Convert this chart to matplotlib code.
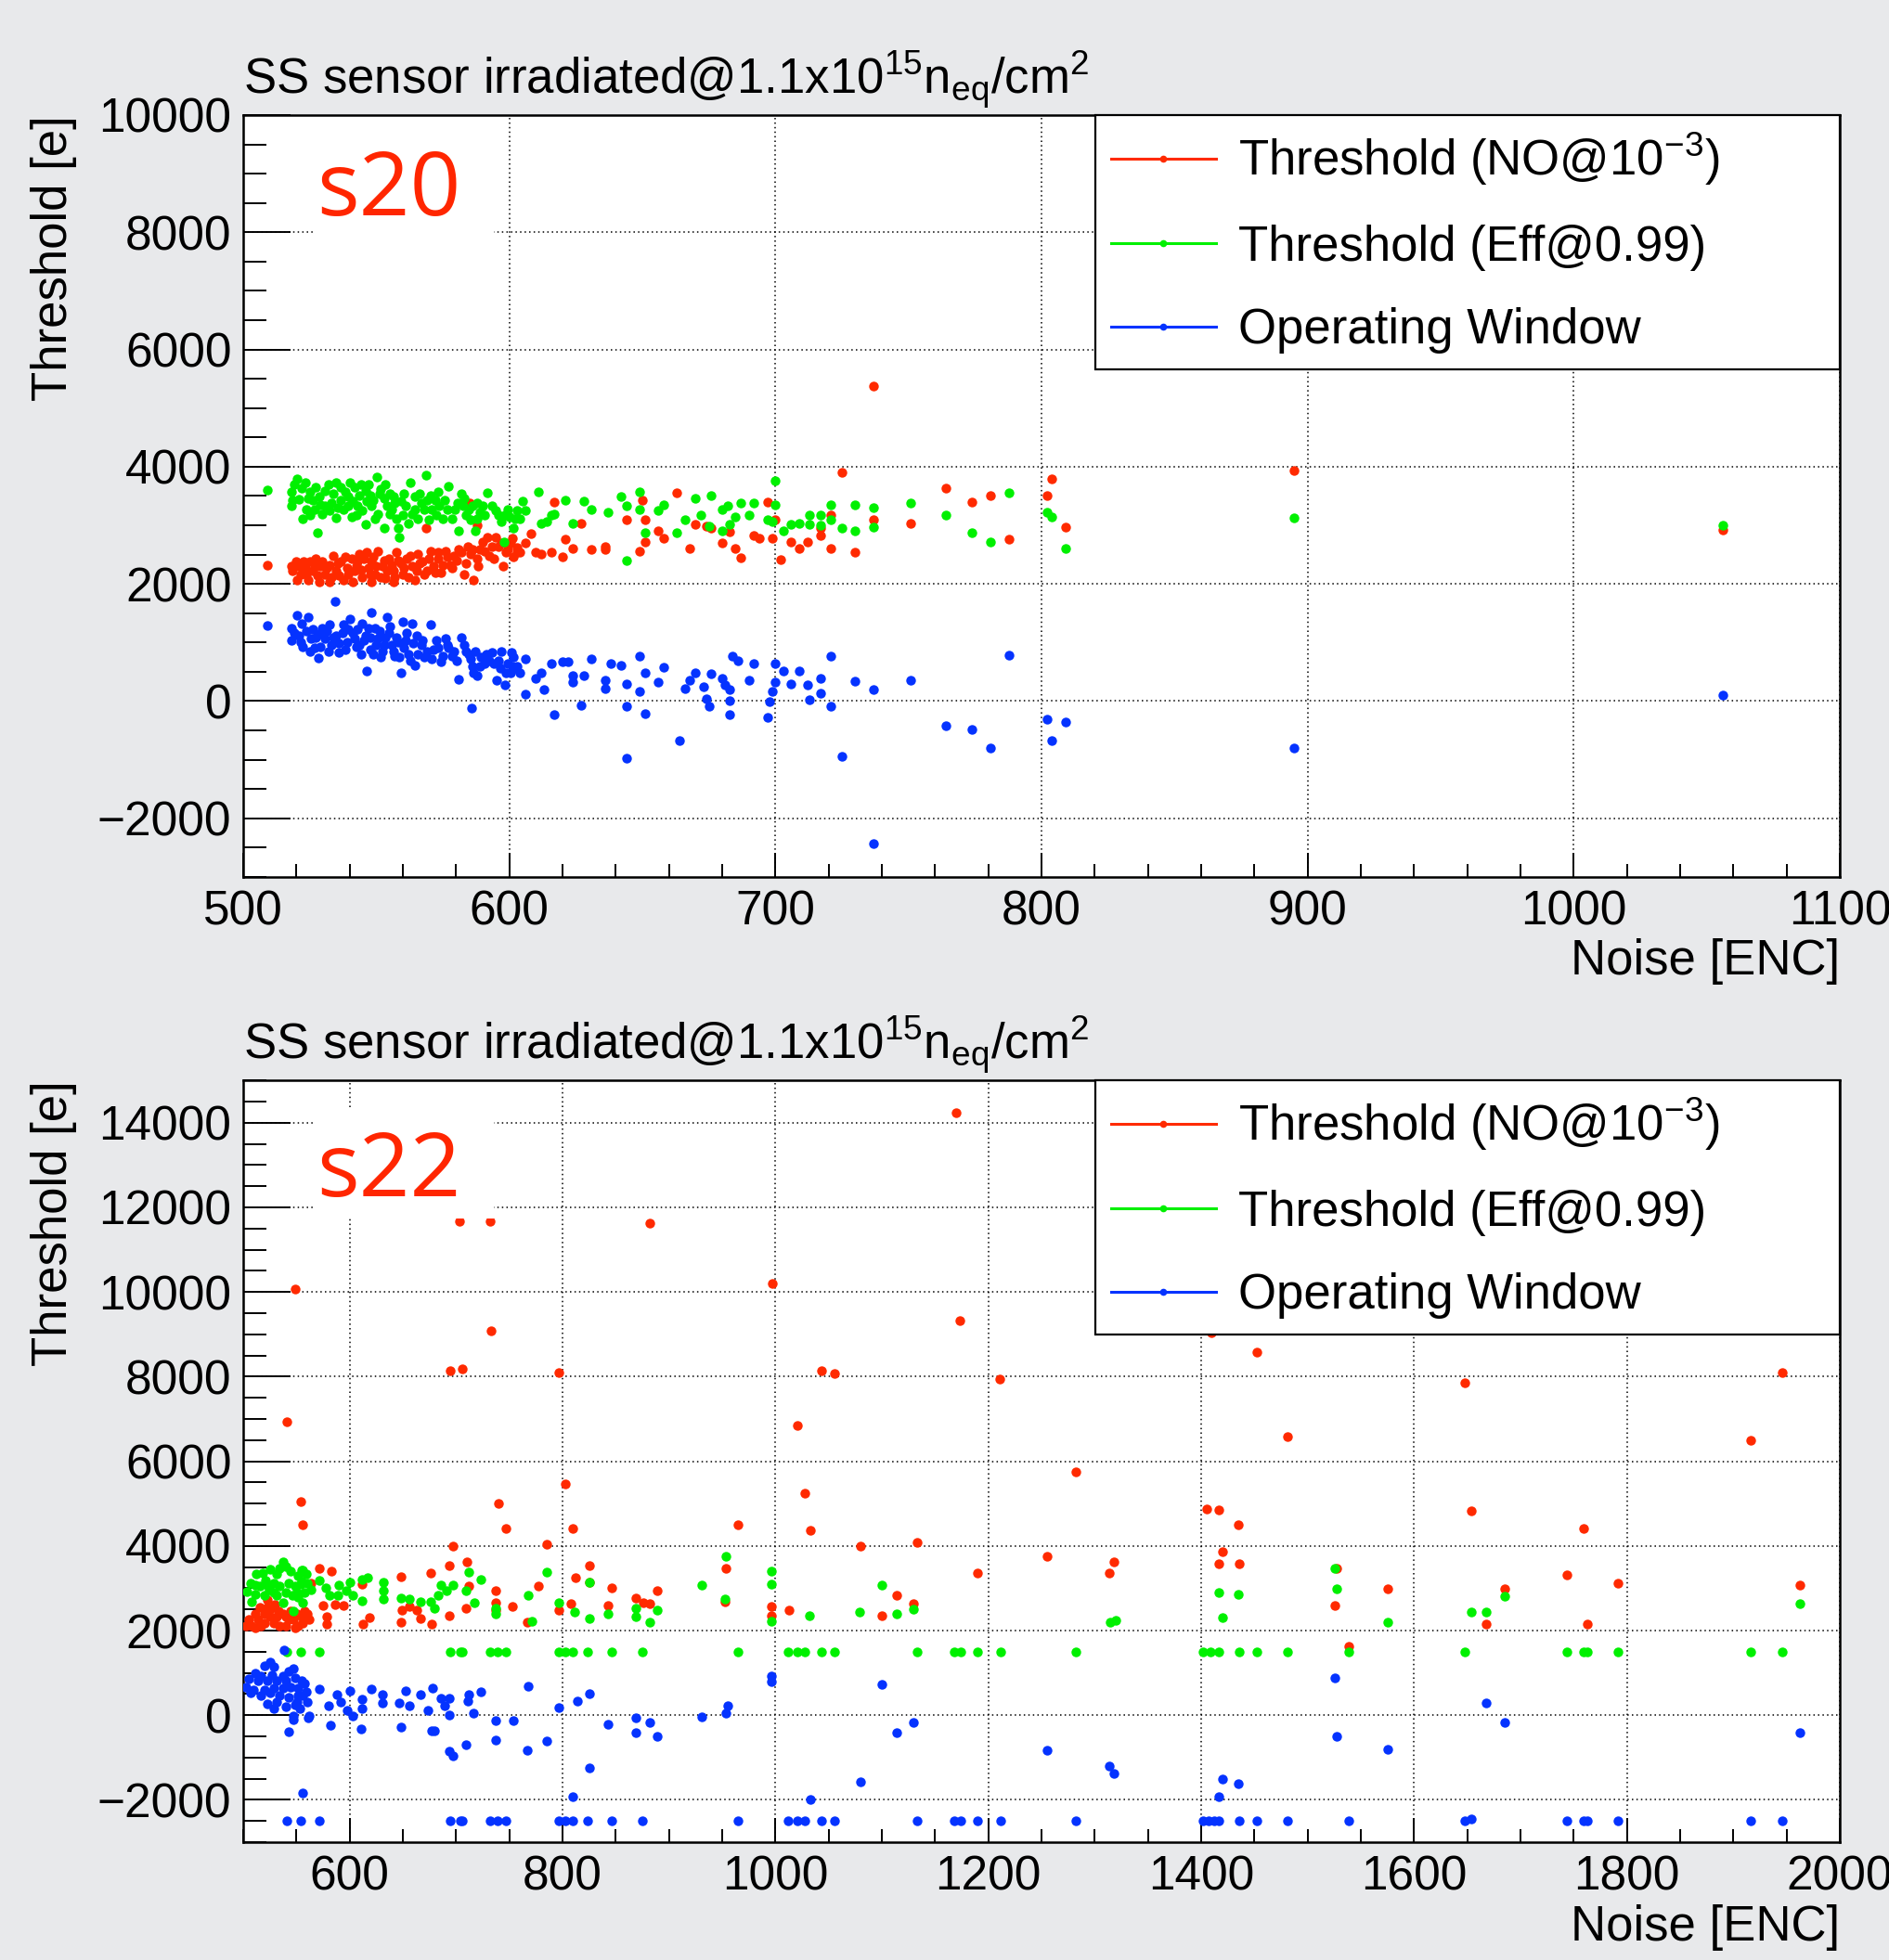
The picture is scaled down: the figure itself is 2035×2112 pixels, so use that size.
import numpy as np
import matplotlib.pyplot as plt
from matplotlib.lines import Line2D
from matplotlib.patches import Rectangle
from matplotlib.ticker import MultipleLocator, FuncFormatter

plt.rcParams['font.family'] = ['Liberation Sans', 'DejaVu Sans']
plt.rcParams['mathtext.fontset'] = 'custom'
plt.rcParams['mathtext.rm'] = 'Liberation Sans'
plt.rcParams['mathtext.it'] = 'Liberation Sans:italic'
plt.rcParams['mathtext.bf'] = 'Liberation Sans:bold'
plt.rcParams['mathtext.default'] = 'regular'

# ---------------- s20 (top panel) : (noise, threshold) ----------------
s20_no = np.array([
    (509, 2326), (725, 3905), (764, 3630), (774, 3390), (781, 3510), (788, 2760),
    (804, 3785), (802, 3510), (809, 2970), (751, 3025), (737, 3090), (730, 2535),
    (721, 2605), (721, 3170), (717, 2825), (717, 2960), (712, 2720), (709, 2600),
    (706, 2720), (702, 2420), (700, 3090), (697, 3390), (699, 2775), (692, 2825),
    (694, 2785), (687, 2445), (685, 2600), (680, 2695), (683, 2895), (674, 2985),
    (676, 2960), (670, 3010), (668, 2600), (663, 3547), (658, 2775), (656, 2905),
    (651, 2720), (649, 2560), (651, 3090), (650, 3420), (644, 3090), (636, 2640),
    (636, 2590), (631, 2590), (627, 3035), (624, 2600), (620, 2460), (621, 2765),
    (617, 3400), (616, 2535), (612, 2510), (610, 2535), (608, 2850), (606, 2695),
    (604, 2535), (737, 5383), (895, 3936), (1056, 2915),
    (518.1, 2300), (519.8, 2379), (521.5, 2168), (523.3, 2274), (525.0, 2379),
    (526.2, 2221), (527.4, 2432), (529.1, 2300), (530.8, 2168), (532.6, 2326),
    (533.8, 2484), (534.9, 2221), (536.7, 2379), (537.8, 2063), (539.0, 2274),
    (540.7, 2432), (542.5, 2300), (543.6, 2511), (544.8, 2116), (546.5, 2537),
    (547.1, 2274), (548.3, 2379), (549.4, 2168), (550.6, 2563), (552.3, 2300),
    (553.5, 2090), (554.7, 2432), (556.4, 2221), (557.6, 2537), (559.3, 2353),
    (559.9, 2168), (561.6, 2432), (563.4, 2300), (564.6, 2063), (565.7, 2511),
    (567.5, 2379), (569.2, 2221), (570.4, 2563), (571.5, 2300), (573.3, 2432),
    (574.4, 2195), (576.2, 2563), (577.9, 2326), (579.1, 2484), (580.8, 2589),
    (583.1, 2168), (584.3, 2642), (585.5, 2511), (586.6, 2063), (587.8, 2432),
    (589.0, 2589), (590.1, 2721), (591.9, 2800), (592.4, 2484), (594.8, 2800),
    (595.9, 2642), (597.7, 2300), (598.8, 2537), (600.6, 2695), (601.7, 2458),
    (602.9, 2616), (520.4, 2063), (524.5, 2063), (528.5, 2037), (532.6, 2037),
    (541.3, 2037), (548.3, 2037), (556.4, 2037), (585.2, 3379), (568.6, 2947),
    (587.8, 3000),
    (518.6, 2221), (521.0, 2300), (522.7, 2379), (523.9, 2168), (526.8, 2300),
    (527.9, 2142), (529.7, 2379), (531.4, 2274), (533.2, 2116), (535.5, 2353),
    (536.1, 2142), (538.4, 2458), (539.6, 2168), (541.9, 2221), (543.1, 2379),
    (544.2, 2247), (545.4, 2432), (547.7, 2168), (548.9, 2458), (550.0, 2300),
    (551.8, 2116), (552.9, 2405), (554.1, 2221), (555.8, 2326), (557.0, 2116),
    (558.2, 2405), (560.5, 2274), (562.2, 2116), (562.8, 2484), (565.1, 2221),
    (566.3, 2353), (568.0, 2168), (569.8, 2432), (572.1, 2195), (573.3, 2537),
    (575.0, 2326), (576.8, 2458), (578.5, 2274), (580.2, 2405), (582.0, 2537),
    (583.7, 2353), (586.1, 2589), (588.4, 2300), (590.7, 2563), (593.6, 2642),
    (594.2, 2432), (597.1, 2695), (599.4, 2589), (601.2, 2774), (602.9, 2537),
])

s20_eff = np.array([
    (509, 3605), (788, 3547), (802, 3220), (804, 3140), (809, 2600), (781, 2720),
    (774, 2870), (764, 3180), (751, 3380), (737, 3300), (737, 2970), (730, 3350),
    (730, 2905), (725, 2950), (721, 3350), (721, 3090), (717, 3180), (717, 3000),
    (713, 3170), (713, 3010), (709, 3035), (706, 3010), (703, 2905), (700, 3760),
    (700, 3350), (699, 3065), (697, 3090), (692, 3380), (687, 3380), (690, 3170),
    (685, 3140), (682, 3325), (680, 3275), (680, 2905), (683, 3010), (675, 2985),
    (672, 3170), (670, 3460), (676, 3510), (666, 3090), (663, 2880), (658, 3350),
    (656, 3250), (651, 2880), (649, 3275), (649, 3565), (644, 3325), (644, 2405),
    (642, 3485), (637, 3220), (631, 3275), (628, 3405), (624, 3035), (621, 3430),
    (617, 3195), (616, 3170), (614, 3065), (612, 3035), (611, 3565), (606, 3250),
    (605, 3405), (604, 3115), (895, 3128), (1056, 3000),
    (520.2, 3789), (518.3, 3563), (518.1, 3337), (522.1, 3632), (521.0, 3442),
    (525.0, 3563), (526.2, 3432), (523.9, 3274), (522.5, 3116), (525.0, 3168),
    (527.9, 2879), (528.5, 3484), (530.6, 3589), (530.8, 3326), (529.7, 3195),
    (534.9, 3732), (533.2, 3379), (535.5, 3300), (534.9, 3126), (538.4, 3563),
    (537.8, 3274), (540.1, 3721), (541.9, 3642), (541.3, 3405), (543.1, 3326),
    (542.5, 3168), (546.0, 3589), (546.5, 3405), (544.8, 3247), (547.7, 3511),
    (548.3, 3326), (546.0, 3011), (550.4, 3826), (549.4, 3116), (551.8, 3616),
    (552.9, 3458), (554.1, 3326), (552.9, 2958), (555.3, 3195), (557.0, 3379),
    (558.2, 2958), (558.7, 2800), (557.6, 3116), (560.5, 3537), (561.1, 3326),
    (562.8, 3721), (562.2, 3037), (564.6, 3484), (564.6, 3274), (566.9, 3379),
    (565.7, 3116), (568.6, 3853), (570.4, 3511), (570.9, 3274), (569.8, 3089),
    (573.3, 3563), (573.8, 3326), (575.0, 3116), (577.1, 3668), (576.8, 3274),
    (578.5, 3116), (580.6, 3379), (582.0, 3537), (580.8, 2905), (583.1, 3458),
    (583.7, 3168), (586.1, 3326), (587.2, 2905), (587.8, 3116), (589.0, 3221),
    (590.1, 3326), (591.9, 3547), (593.6, 3326), (595.9, 3168), (597.1, 3063),
    (599.4, 3274), (600.3, 3142), (601.7, 2958), (598.0, 2721),
    (519.2, 3695), (518.6, 3432), (523.3, 3721), (524.5, 3458), (527.4, 3642),
    (526.8, 3274), (529.1, 3353), (532.0, 3695), (532.6, 3247), (533.8, 3537),
    (536.7, 3642), (536.7, 3432), (539.6, 3484), (539.6, 3326), (540.7, 3142),
    (543.6, 3511), (544.2, 3695), (547.1, 3695), (548.9, 3432), (550.6, 3195),
    (551.2, 3537), (553.5, 3695), (555.3, 3537), (556.4, 3484), (555.8, 3274),
    (559.3, 3405), (559.9, 3168), (563.4, 3195), (566.3, 3537), (568.0, 3274),
    (569.2, 3432), (572.1, 3432), (572.7, 3168), (575.6, 3432), (579.7, 3274),
    (582.6, 3326), (584.9, 3274), (585.5, 3089), (587.8, 3379), (590.7, 3168),
    (594.8, 3247), (598.3, 3168), (602.3, 3116), (602.9, 3247),
])

s20_win = np.array([
    (509, 1290), (788, 785), (802, -305), (804, -675), (809, -360), (781, -795),
    (774, -490), (764, -425), (737, 205), (730, 340), (737, -2435), (751, 350),
    (725, -935), (721, 760), (721, -95), (717, 380), (717, 140), (713, 20),
    (712, 275), (709, 510), (706, 300), (703, 510), (700, 640), (700, 325),
    (699, 170), (697, -280), (698, -15), (692, 640), (690, 350), (686, 695),
    (684, 775), (683, -225), (683, 10), (683, 195), (681, 275), (680, 380),
    (676, 460), (675, -95), (674, 35), (673, 245), (670, 485), (668, 350),
    (666, 220), (664, -675), (658, 575), (656, 325), (651, -215), (651, 485),
    (649, 170), (649, 775), (644, -95), (644, -980), (644, 300), (642, 615),
    (638, 640), (636, 220), (636, 350), (631, 720), (628, 430), (627, -70),
    (624, 430), (624, 325), (622, 670), (620, 670), (617, -225), (616, 640),
    (613, 195), (612, 485), (610, 380), (606, 115), (606, 720), (604, 485),
    (602, 565), (601, 825), (895, -808), (1056, 106),
    (520.2, 1458), (518.3, 1247), (518.3, 1037), (522.1, 1326), (521.0, 1116),
    (522.5, 932), (524.5, 1432), (525.0, 853), (526.2, 1221), (527.4, 1089),
    (528.3, 737), (529.7, 1247), (530.8, 1063), (532.6, 1300), (533.2, 958),
    (534.9, 1116), (536.1, 826), (537.8, 1300), (539.0, 1011), (540.1, 1405),
    (541.3, 1168), (542.5, 932), (544.2, 800), (544.8, 1326), (546.0, 1116),
    (546.5, 511), (547.7, 879), (548.3, 1511), (549.4, 1247), (550.6, 1063),
    (551.8, 747), (552.9, 958), (554.1, 1432), (554.7, 1168), (556.4, 853),
    (557.6, 1089), (558.7, 747), (559.3, 484), (559.9, 1353), (561.1, 1037),
    (562.2, 800), (563.4, 1326), (564.6, 616), (565.1, 1116), (566.9, 958),
    (568.0, 747), (570.4, 1300), (571.5, 879), (572.7, 1037), (574.4, 668),
    (576.2, 1063), (577.3, 905), (578.5, 774), (580.8, 379), (582.0, 1089),
    (583.1, 958), (584.9, 800), (586.1, 589), (587.2, 853), (587.8, 432),
    (589.5, 747), (590.7, 642), (592.4, 695), (593.6, 826), (595.4, 353),
    (596.5, 563), (597.1, 853), (598.3, 274), (599.4, 642), (600.6, 484),
    (601.7, 747), (602.9, 589), (585.7, -125), (534.7, 1695),
    (519.2, 1168), (521.5, 1011), (523.9, 1195), (525.6, 1063), (526.8, 905),
    (528.5, 1142), (529.1, 932), (531.4, 1195), (532.0, 853), (533.8, 1089),
    (536.1, 984), (537.2, 1168), (538.4, 879), (539.6, 1221), (541.9, 1063),
    (543.1, 1221), (543.6, 958), (545.4, 1037), (547.1, 1247), (547.7, 1089),
    (548.9, 800), (550.0, 958), (551.2, 1195), (552.3, 853), (553.5, 1089),
    (555.3, 1274), (555.8, 958), (557.0, 774), (558.2, 1011), (560.5, 905),
    (561.6, 1168), (562.8, 695), (564.0, 984), (565.7, 800), (567.5, 1037),
    (569.2, 853), (570.9, 721), (573.3, 905), (575.0, 774), (576.8, 958),
    (579.1, 853), (580.2, 695), (583.7, 853), (585.5, 721), (586.6, 484),
    (589.0, 589), (591.3, 800), (594.2, 642), (595.9, 695), (598.8, 484),
    (601.2, 589),
])

# ---------------- s22 (bottom panel) ----------------
s22_no = np.array([
    (1170, 14230), (703, 11660), (732, 11660), (882, 11620), (549, 10080),
    (997, 10200), (1173, 9325), (733, 9075), (694.5, 8150), (706, 8190),
    (797, 8100), (1043, 8150), (1056, 8070), (1211, 7940), (541, 6930),
    (1021, 6850), (1282, 5760), (803, 5460), (1028, 5250), (554, 5050),
    (740, 5000), (556, 4500), (747, 4420), (810, 4420), (965, 4500), (1033, 4370),
    (697, 4000), (785, 4040), (1080, 4000), (1133, 4075), (1255, 3745),
    (1318, 3625), (1314, 3365), (1190, 3365), (954, 3480), (825, 3530),
    (710, 3625), (694, 3530), (572, 3480), (583, 3410), (676, 3365), (648, 3280),
    (812, 3245), (712, 3045), (777, 3045), (825, 3140), (612, 3100), (737, 2950),
    (846, 3000), (889, 2950), (1114, 2830), (1130, 2630), (869, 2770), (876, 2650),
    (882, 2630), (808, 2630), (843, 2600), (753, 2570), (797, 2480), (996, 2570),
    (996, 2360), (1013, 2490), (1100, 2360), (953, 2690), (767, 2190),
    (649, 2477), (656, 2571), (663, 2477), (667, 2275), (677, 2145), (648, 2192),
    (575, 2595), (586, 2619), (594, 2595), (579, 2145), (579, 2334), (613, 2145),
    (619, 2311), (694, 2358), (709, 2536), (737, 2477), (737, 2666),
    (1410, 9030), (1452, 8570), (1648, 7855), (1946, 8100), (1481, 6590),
    (1916, 6500), (1405, 4880), (1417, 4845), (1435, 4500), (1654, 4830),
    (1759, 4420), (1420, 3875), (1417, 3580), (1436, 3580), (1527, 3480),
    (1526, 2600), (1539, 1635), (1575, 2985), (1685, 2985), (1668, 2155),
    (1744, 3320), (1763, 2155), (1792, 3115), (1963, 3070),
    (502.3, 2109), (508.1, 2109), (514.0, 2253), (519.8, 2397), (522.7, 2540),
    (525.6, 2325), (528.5, 2181), (532.8, 2469), (534.3, 2109), (540.1, 2325),
    (544.5, 2469), (547.4, 2253), (551.7, 2109), (554.7, 2325), (557.6, 2469),
    (560.5, 2397), (529.9, 2612), (522.7, 2720), (540.1, 2109), (516.9, 2109),
    (563.4, 3116), (505.2, 2253), (511.0, 2397), (515.4, 2540), (525.6, 2504),
    (537.2, 2397), (543.0, 2253), (550.3, 2397), (556.1, 2181), (561.9, 2253),
    (531.4, 2325), (519.8, 2181), (511.0, 2073), (548.8, 2073),
])

s22_floor_noise = [541, 554, 572, 694.5, 704, 706, 732, 739, 747, 797, 803, 810,
                   824, 846, 875, 965, 1012, 1021, 1028, 1043, 1056, 1133, 1168,
                   1174, 1190, 1212, 1282, 1402, 1409, 1417, 1436, 1452, 1481,
                   1539, 1648, 1744, 1759, 1763, 1792, 1916, 1946]
s22_eff_floor = [1500] * len(s22_floor_noise)

s22_eff = np.array([
    (954, 3745), (1100, 3080), (1114, 2405), (1130, 2500), (1079, 2440),
    (1032, 2360), (996, 3400), (996, 3100), (996, 2215), (953, 2740), (931, 3070),
    (825, 3140), (825, 2275), (811, 2450), (843, 2405), (869, 2535), (869, 2320),
    (882, 2190), (889, 2490), (797, 2665), (785, 3375), (768, 2830), (771, 2215),
    (737, 2535), (737, 2405), (723, 3200), (717, 2665), (712, 3375), (709, 2950),
    (697, 3080), (686, 3080), (683, 2830), (680, 2535), (691, 2950), (676, 2690),
    (667, 2690), (656, 2740), (648, 2760), (632, 3140), (632, 2950), (632, 2740),
    (612, 3200), (617, 3245), (612, 2710), (600, 3140), (597, 2950), (603, 2830),
    (590, 3080), (589, 2830), (581, 2830), (578, 3010), (572, 3190), (555, 3425),
    (554, 3090),
    (1315, 2190), (1320, 2240), (1417, 2900), (1420, 2310), (1435, 2855),
    (1526, 3480), (1527, 2985), (1575, 2190), (1654, 2440), (1668, 2440),
    (1685, 2820), (1963, 2640),
    (537.2, 3619), (540.1, 3511), (556.1, 3418), (525.6, 3439), (512.5, 3331),
    (521.2, 3188), (528.5, 3116), (534.3, 3044), (543.0, 3116), (548.8, 3044),
    (554.7, 3152), (560.5, 3116), (515.4, 3044), (503.8, 2914), (511.0, 2864),
    (519.8, 2828), (531.4, 2828), (540.1, 2900), (545.9, 2828), (551.7, 2792),
    (557.6, 2900), (524.1, 2972), (508.1, 2670), (537.2, 2648), (547.4, 2468),
    (556.1, 2648), (506.7, 3116), (518.3, 3367), (531.4, 3331), (544.5, 3403),
    (551.7, 3295), (559.0, 3331), (528.5, 2900), (511.0, 3080), (550.3, 2900),
    (563.4, 2972), (534.3, 3475), (522.7, 3080),
])

s22_win_floor_noise = [541, 554, 572, 694.5, 704, 706, 732, 739, 747, 797, 803,
                       810, 824, 846, 875, 965, 1012, 1021, 1028, 1043, 1056, 1133,
                       1168, 1174, 1190, 1212, 1282, 1402, 1407, 1412, 1417, 1436,
                       1452, 1481, 1539, 1648, 1654, 1744, 1759, 1763, 1792, 1916,
                       1946]
s22_win_floor = [-2500] * 16 + [-2500] * 20 + [-2440] + [-2500] * 6

s22_win = np.array([
    (556, -1840), (810, -1920), (1033, -2000), (1080, -1575), (825, -1245),
    (1255, -830), (1314, -1200), (1318, -1375), (694, -850), (697, -960),
    (709, -700), (767, -830), (785, -600), (737, -580), (1114, -415), (1130, -165),
    (869, -415), (889, -500), (882, -165), (869, -70), (843, -210), (931, -35),
    (954, 45), (955, 215), (754, -120), (737, -120), (716, 45), (694, 10),
    (677, -370), (680, -370), (648, -270), (611, -320), (582, -225), (561, -70),
    (547, -95), (543, -400), (797, 190), (814, 345), (825, 520), (768, 690),
    (723, 555), (712, 485), (711, 345), (694, 390), (686, 390), (689, 225),
    (678, 640), (667, 485), (674, 105), (656, 225), (653, 580), (647, 285),
    (631, 485), (631, 285), (620, 615), (612, 370), (612, 165), (600, 580),
    (598, 105), (603, -10), (592, 310), (588, 485), (580, 225), (572, 615),
    (996, 935), (996, 795), (1100, 720), (1420, -1500), (1435, -1620),
    (1417, -1920), (1526, 890), (1527, -500), (1575, -795), (1668, 295),
    (1685, -165), (1963, -415),
    (525.6, 1246), (528.5, 1138), (511.0, 995), (516.9, 923), (522.7, 815),
    (531.4, 815), (537.2, 923), (543.0, 1030), (548.8, 887), (554.7, 815),
    (505.2, 851), (502.3, 671), (509.6, 599), (519.8, 599), (528.5, 635),
    (537.2, 635), (544.5, 671), (551.7, 635), (559.0, 563), (534.3, 455),
    (543.0, 419), (550.3, 311), (556.1, 455), (522.7, 276), (531.4, 311),
    (540.1, 204), (547.4, -12), (561.9, -12), (548.8, 240), (538.7, 1534),
    (514.0, 815), (527.0, 959), (540.1, 815), (547.4, 1102), (557.6, 743),
    (506.7, 527), (516.9, 455), (525.6, 527), (551.7, 455), (560.5, 311),
    (528.5, 168), (553.2, 168), (519.8, 1174),
])

RED = '#ff2a00'
GREEN = '#00f000'
BLUE = '#0533ff'
BG = '#e8e9eb'

title = 'SS sensor irradiated@1.1x10$^{15}$n$_{eq}$/cm$^{2}$'
labels = ['Threshold (NO@10$^{-3}$)', 'Threshold (Eff@0.99)', 'Operating Window']

fig = plt.figure(figsize=(20.35, 21.12), dpi=100, facecolor=BG)
ax1 = fig.add_axes([0.1287, 0.5526, 0.8452, 0.3887])
ax2 = fig.add_axes([0.1287, 0.0601, 0.8452, 0.3887])

minus = FuncFormatter(lambda v, p: f'{int(round(v))}'.replace('-', '\u2212'))


def dots(ax, x, y, color):
    ax.plot(x, y, linestyle='none', marker='o', markersize=7.5,
            markeredgewidth=0, color=color, zorder=3)


def decorate(ax, xlim, ylim, xmaj, xmin, tag, tag_y, box_y):
    ax.set_xlim(*xlim)
    ax.set_ylim(*ylim)
    ax.xaxis.set_major_locator(MultipleLocator(xmaj))
    ax.xaxis.set_minor_locator(MultipleLocator(xmin))
    ax.yaxis.set_major_locator(MultipleLocator(2000))
    ax.yaxis.set_minor_locator(MultipleLocator(500))
    ax.yaxis.set_major_formatter(minus)
    ax.xaxis.set_major_formatter(minus)
    ax.set_axisbelow(True)
    ax.grid(True, which='major', color='black', linestyle=(0, (1, 2.2)), linewidth=1.1)
    ax.tick_params(axis='both', which='both', direction='in', top=False, right=False,
                   labelsize=37, width=1.4)
    ax.tick_params(axis='y', which='major', length=37, pad=9)
    ax.tick_params(axis='y', which='minor', length=18)
    ax.tick_params(axis='x', which='major', length=18.5, pad=10)
    ax.tick_params(axis='x', which='minor', length=10)
    for s in ax.spines.values():
        s.set_linewidth(1.8)

    ax.text(0.0, 1.029, title, transform=ax.transAxes, ha='left', va='baseline',
            fontsize=38)
    ax.set_ylabel('Threshold [e]', fontsize=38, loc='top')
    ax.yaxis.set_label_coords(-0.104, 1.0)
    ax.set_xlabel('Noise [ENC]', fontsize=38, loc='right')
    ax.xaxis.set_label_coords(1.0, -0.081)

    ax.add_patch(Rectangle((0.0436, box_y), 0.1134, 0.144, transform=ax.transAxes,
                           facecolor='white', edgecolor='none', zorder=6))
    ax.text(0.046, tag_y, tag, transform=ax.transAxes, ha='left', va='baseline',
            fontsize=69, color='#ff2600', family=['Open Sans', 'DejaVu Sans'],
            zorder=7)

    handles = [Line2D([], [], color=c, lw=2.2, marker='o', markersize=5.5,
                      markeredgewidth=0) for c in (RED, GREEN, BLUE)]
    leg = ax.legend(handles, labels, loc='upper left',
                    bbox_to_anchor=(0.5337, 0.665, 0.4663, 0.335), mode='expand',
                    borderaxespad=0, fontsize=38, frameon=True, fancybox=False,
                    edgecolor='black', framealpha=1, handlelength=2.15,
                    handletextpad=0.45, borderpad=0.32, labelspacing=0.75)
    leg.get_frame().set_linewidth(1.6)
    leg.set_zorder(8)


dots(ax1, s20_no[:, 0], s20_no[:, 1], RED)
dots(ax1, s20_eff[:, 0], s20_eff[:, 1], GREEN)
dots(ax1, s20_win[:, 0], s20_win[:, 1], BLUE)
decorate(ax1, (500, 1100), (-3000, 10000), 100, 20, 's20', 0.8685, 0.839)

dots(ax2, s22_no[:, 0], s22_no[:, 1], RED)
dots(ax2, s22_eff[:, 0], s22_eff[:, 1], GREEN)
dots(ax2, s22_floor_noise, s22_eff_floor, GREEN)
dots(ax2, s22_win[:, 0], s22_win[:, 1], BLUE)
dots(ax2, s22_win_floor_noise, s22_win_floor, BLUE)
decorate(ax2, (500, 2000), (-3000, 15000), 200, 50, 's22', 0.8477, 0.8185)

fig.savefig('out.png', dpi=100, facecolor=BG)
